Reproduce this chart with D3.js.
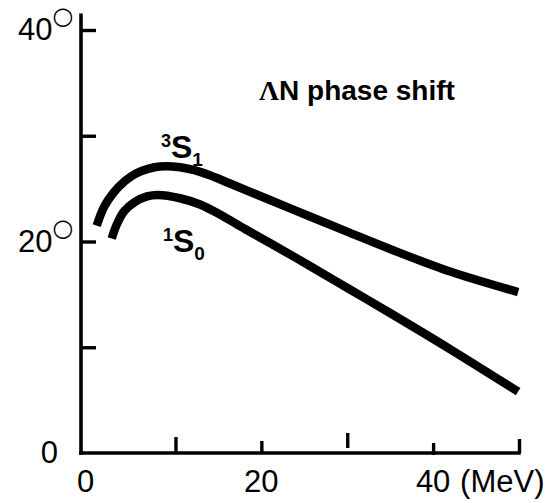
<!DOCTYPE html>
<html><head><meta charset="utf-8">
<script src="https://cdn.jsdelivr.net/npm/d3@7"></script>
<style>body{margin:0;background:#fff}</style>
</head><body>
<svg id="chart" width="554" height="503"></svg>
<script>
// ΛN S-wave phase shifts (degrees) against lab energy (MeV)
const energyTriplet = [0.83, 1.68, 2.76, 4.12, 5.40, 6.80, 8.17, 10.53, 12.86, 14.60, 16.35, 21.0, 25.66, 30.32, 34.98, 41.61, 49.9];
const phaseTriplet  = [21.5, 23.26, 24.59, 25.72, 26.43, 26.86, 27.09, 27.02, 26.59, 26.07, 25.48, 23.92, 22.36, 20.82, 19.29, 17.26, 15.22];
const energySinglet = [2.57, 3.19, 4.0, 5.29, 6.68, 7.96, 10.53, 12.86, 15.18, 18.1, 21.0, 25.66, 30.32, 34.98, 41.96, 49.9];
const phaseSinglet  = [20.28, 21.65, 22.84, 23.74, 24.26, 24.40, 24.09, 23.50, 22.55, 21.18, 19.86, 17.68, 15.46, 13.24, 9.83, 5.80];
const xTicks = [10, 20, 30, 40, 50];
const xTickLabels = [0, 20, 40];
const yTicks = [10, 20, 30, 40];
const yTickLabels = [0, 20, 40];
const xUnit = "(MeV)";
const title = ["Λ", "N phase shift"];

const svg = d3.select("#chart");
const font = "'Liberation Sans', Arial, sans-serif";

const x = d3.scaleLinear().domain([-1, 50]).range([81, 519]);
const y = d3.scaleLinear().domain([0, 40]).range([453, 30]);
const x0 = x(-1), y0 = y(0);

// axis lines
svg.append("line").attr("x1", x0).attr("x2", x0).attr("y1", y0).attr("y2", y(41.4))
  .attr("stroke", "#000").attr("stroke-width", 3.6).attr("stroke-linecap", "square");
svg.append("line").attr("x1", x0).attr("x2", x(50)).attr("y1", y0).attr("y2", y0)
  .attr("stroke", "#000").attr("stroke-width", 3.6).attr("stroke-linecap", "square");

// y ticks, pointing inward
const gy = svg.append("g").attr("transform", `translate(${x0},0)`)
  .call(d3.axisRight(y).tickValues(yTicks).tickSize(15).tickSizeOuter(0).tickFormat(""));
gy.select(".domain").remove();
gy.selectAll(".tick line").attr("stroke", "#000").attr("stroke-width", 3.4);

// x ticks, pointing up; hand-drawn lengths
const tickSpan = {10: [-16, 0], 20: [-12, 0], 30: [-20, -5], 40: [-10, 2], 50: [-14, 0]};
const gx = svg.append("g").attr("transform", `translate(0,${y0})`)
  .call(d3.axisTop(x).tickValues(xTicks).tickSize(13).tickSizeOuter(0).tickFormat(""));
gx.select(".domain").remove();
gx.selectAll(".tick line")
  .attr("y1", d => tickSpan[d][1]).attr("y2", d => tickSpan[d][0])
  .attr("stroke", "#000").attr("stroke-width", 3.4);

// y tick labels with degree rings
const yl = svg.append("g").attr("font-family", font).attr("font-size", 31).attr("fill", "#000");
yTickLabels.forEach(v => {
  const t = yl.append("text").attr("y", y(v) + 10);
  if (v === 0) { t.attr("x", 58).attr("text-anchor", "end").text(v); return; }
  t.attr("x", 18).attr("text-anchor", "start");
  t.append("tspan").text(v);
  t.append("tspan").attr("font-family", "'DejaVu Sans'").attr("font-size", 24)
    .attr("dx", 0).attr("dy", -16).text("○");
});

// x tick labels
const xl = svg.append("g").attr("font-family", font).attr("font-size", 31).attr("fill", "#000");
xTickLabels.forEach(v => {
  xl.append("text").attr("x", v === 0 ? x(v) - 4 : x(v)).attr("y", 492)
    .attr("text-anchor", "middle").text(v);
});
xl.append("text").attr("x", x(40) + 27).attr("y", 492).text(xUnit);

// curves
const line = d3.line().x(d => x(d[0])).y(d => y(d[1])).curve(d3.curveCatmullRom.alpha(0.5));
[[energyTriplet, phaseTriplet], [energySinglet, phaseSinglet]].forEach(([e, p]) => {
  svg.append("path").datum(e.map((v, i) => [v, p[i]]))
    .attr("d", line).attr("fill", "none").attr("stroke", "#000")
    .attr("stroke-width", 8.5).attr("stroke-linecap", "butt").attr("stroke-linejoin", "round");
});

// curve labels
function waveLabel(xp, yp, sup, sub) {
  const t = svg.append("text").attr("x", xp).attr("y", yp)
    .attr("font-family", font).attr("font-weight", "bold").attr("fill", "#000");
  t.append("tspan").attr("font-size", 18).attr("dy", -11).text(sup);
  t.append("tspan").attr("font-size", 32).attr("dy", 11).text("S");
  t.append("tspan").attr("font-size", 19).attr("dy", 8).text(sub);
}
waveLabel(161, 158, "3", "1");
waveLabel(163, 252, "1", "0");

// title
const tt = svg.append("text").attr("x", 259).attr("y", 100)
  .attr("font-family", font).attr("font-weight", "bold").attr("font-size", 28).attr("fill", "#000");
tt.append("tspan").attr("font-family", "'Liberation Serif', serif").text(title[0]);
tt.append("tspan").text(title[1]);
</script>
</body></html>
